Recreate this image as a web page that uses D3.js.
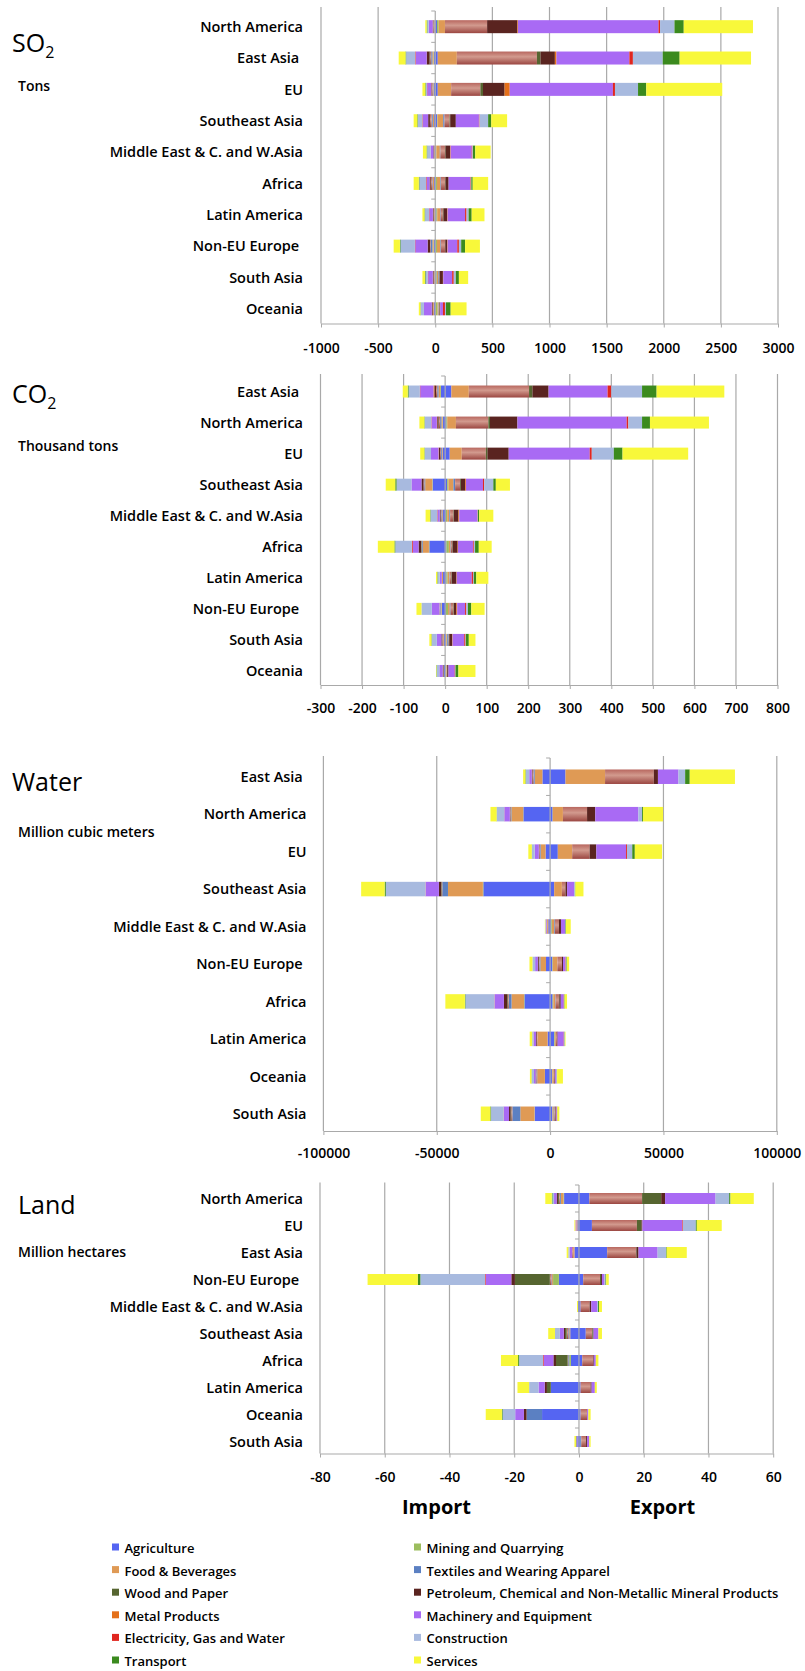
<!DOCTYPE html>
<html>
<head>
<meta charset="utf-8">
<script src="https://cdn.jsdelivr.net/npm/d3@7"></script>
<style>
  html, body { margin: 0; padding: 0; background: #fff; }
  svg { display: block; }
  text { font-family: "Open Sans", "Noto Sans", sans-serif; fill: #000; }
</style>
</head>
<body>
<svg id="chart" width="805" height="1671"></svg>
<script>
// Sector order used for stacking (from zero outwards)
const sectors = [
  "Agriculture", "Mining and Quarrying", "Food & Beverages", "Textiles and Wearing Apparel",
  "Other Manufacturing", "Wood and Paper", "Petroleum, Chemical and Non-Metallic Mineral Products",
  "Metal Products", "Machinery and Equipment", "Electricity, Gas and Water",
  "Construction", "Transport", "Services"
];
const sectorColors = [
  "#5565f2", "#9cbd5e", "#df9a55", "#5b80c2",
  "url(#gradOther)", "#566530", "#5a2420",
  "#e4701a", "#a96af4", "#e0261f",
  "#a8badf", "#3b8a1e", "#f8f83a"
];
// Legend entries, read row by row (two columns)
const legendSectors = [
  "Agriculture", "Mining and Quarrying",
  "Food & Beverages", "Textiles and Wearing Apparel",
  "Wood and Paper", "Petroleum, Chemical and Non-Metallic Mineral Products",
  "Metal Products", "Machinery and Equipment",
  "Electricity, Gas and Water", "Construction",
  "Transport", "Services"
];

// ---------- SO2 (tons) ----------
const so2Regions = ["North America", "East Asia ", "EU", "Southeast Asia", "Middle East & C. and W.Asia",
  "Africa", "Latin America", "Non-EU Europe ", "South Asia", "Oceania"];
const so2Exports = [
  [15, 15, 55, 0, 369, 0, 265, 5, 1230, 14, 126, 81, 606],
  [22, 0, 167, 0, 701, 31, 126, 14, 638, 31, 261, 148, 625],
  [22, 0, 117, 0, 256, 23, 189, 45, 903, 18, 202, 72, 665],
  [15, 5, 50, 11, 45, 5, 49, 0, 202, 5, 76, 27, 139],
  [5, 5, 30, 5, 40, 5, 40, 5, 184, 6, 5, 20, 135],
  [5, 10, 30, 5, 35, 5, 27, 0, 189, 5, 5, 12, 135],
  [10, 7, 25, 5, 20, 5, 31, 5, 153, 13, 18, 27, 112],
  [5, 10, 30, 5, 35, 3, 15, 5, 85, 14, 20, 34, 130],
  [10, 5, 10, 6, 5, 3, 28, 3, 78, 14, 18, 27, 81],
  [5, 15, 8, 3, 5, 2, 5, 0, 24, 18, 9, 41, 139]
];
const so2Imports = [
  [-3, 0, -5, -5, -5, 0, -5, 0, -35, 0, -12, -5, -12],
  [-10, -5, -10, -10, -10, -5, -25, 0, -95, -5, -80, -5, -60],
  [-10, -3, -5, -5, -5, 0, -5, -2, -35, -2, -10, -5, -25],
  [-10, 0, -12, -10, -15, 0, -15, 0, -45, -5, -40, -5, -32],
  [-5, 0, -5, 0, 0, 0, -6, 0, -25, 0, -30, -5, -32],
  [-10, 0, -10, -5, -15, 0, -10, 0, -25, -5, -59, -5, -45],
  [-5, 0, -5, 0, -5, 0, -6, 0, -30, -3, -35, -5, -18],
  [-10, -5, -10, -15, -5, 0, -22, 0, -108, -3, -126, -5, -55],
  [-5, 0, -5, 0, -5, 0, -7, 0, -40, -3, -20, -5, -22],
  [-10, 0, -8, 0, -5, 0, -8, 0, -68, 0, -28, -3, -14]
];
const so2Ticks = [-1000, -500, 0, 500, 1000, 1500, 2000, 2500, 3000];

// ---------- CO2 (thousand tons) ----------
const co2Regions = ["East Asia ", "North America", "EU", "Southeast Asia", "Middle East & C. and W.Asia",
  "Africa", "Latin America", "Non-EU Europe ", "South Asia", "Oceania"];
const co2Exports = [
  [15, 0, 42, 0, 145, 8, 39, 0, 142, 9, 74, 35, 163],
  [3, 2, 21, 0, 78, 4, 66, 0, 263, 4, 33, 19, 142],
  [11, 0, 29, 0, 58, 4, 51, 0, 195, 5, 53, 21, 158],
  [5, 3, 12, 4, 12, 2, 10, 2, 41, 3, 22, 6, 34],
  [2, 3, 5, 2, 8, 1, 11, 2, 43, 1, 1, 3, 34],
  [3, 6, 4, 1, 3, 1, 12, 1, 36, 2, 3, 9, 31],
  [3, 3, 4, 1, 4, 1, 11, 1, 36, 3, 2, 6, 29],
  [2, 5, 4, 2, 7, 1, 6, 2, 19, 3, 4, 8, 32],
  [2, 1, 2, 3, 1, 1, 7, 1, 28, 3, 1, 7, 16],
  [1, 2, 1, 0, 1, 0, 3, 0, 15, 1, 1, 7, 41]
];
const co2Imports = [
  [-10, -2, -4, -3, -3, 0, -4, -2, -32, -1, -27, -2, -12],
  [-5, -1, -3, -3, -3, -1, -3, -1, -12, -1, -16, -1, -12],
  [-6, 0, -2, -2, -2, 0, -3, -1, -18, 0, -15, -1, -10],
  [-30, -1, -17, -2, -2, 0, -5, 0, -24, 0, -36, -3, -23],
  [-5, 0, -2, -2, -2, 0, -2, 0, -5, -1, -16, -1, -11],
  [-38, -1, -15, -2, -1, -1, -6, 0, -14, -2, -40, -2, -40],
  [-5, 0, -3, 0, 0, 0, 0, 0, -5, 0, -5, -1, -3],
  [-8, -1, -2, -2, -1, 0, 0, 0, -18, 0, -25, 0, -12],
  [-3, 0, -2, -1, -1, 0, -2, 0, -11, 0, -12, -1, -5],
  [-3, 0, -1, 0, 0, 0, -2, 0, -8, 0, -6, -1, -1]
];
const co2Ticks = [-300, -200, -100, 0, 100, 200, 300, 400, 500, 600, 700, 800];

// ---------- Water (million cubic meters) ----------
const waterRegions = ["East Asia ", "North America", "EU", "Southeast Asia", "Middle East & C. and W.Asia",
  "Non-EU Europe ", "Africa", "Latin America", "Oceania", "South Asia"];
const waterExports = [
  [6800, 0, 17440, 0, 21510, 0, 1820, 0, 9060, 0, 2940, 2030, 19940],
  [1100, 100, 4460, 0, 10650, 0, 3620, 0, 19030, 0, 1610, 400, 8860],
  [3400, 0, 6340, 0, 7700, 0, 2950, 0, 13130, 400, 2320, 1130, 12010],
  [1800, 0, 3400, 0, 1600, 0, 700, 0, 3150, 0, 300, 200, 3570],
  [500, 300, 1000, 300, 1800, 0, 900, 0, 1800, 0, 200, 200, 2100],
  [1000, 200, 2000, 0, 2000, 0, 500, 0, 1000, 200, 300, 200, 1000],
  [1100, 300, 800, 200, 1500, 200, 600, 0, 1300, 100, 100, 200, 1070],
  [1800, 300, 400, 0, 500, 0, 300, 0, 2700, 100, 300, 100, 300],
  [800, 200, 600, 0, 400, 0, 200, 0, 600, 0, 200, 100, 2560],
  [1000, 100, 500, 300, 500, 0, 300, 0, 300, 100, 0, 100, 880]
];
const waterImports = [
  [-3400, 0, -3400, -500, -500, 0, -300, 0, -1100, 0, -1500, -200, -1000],
  [-11780, -100, -5200, -300, -200, 0, -200, 0, -2400, -50, -3270, -100, -2700],
  [-2000, 0, -2200, -300, -300, 0, -200, 0, -1800, 0, -1200, -100, -1500],
  [-29450, -200, -15400, -2500, -300, -200, -1000, 0, -5800, -100, -17530, -500, -10370],
  [-800, 0, -500, 0, -200, 0, 0, 0, -300, 0, -300, 0, -200],
  [-1800, 0, -2500, -400, -300, 0, -400, 0, -1200, 0, -1200, 0, -1300],
  [-11320, -200, -5500, -1200, -400, -300, -1460, 0, -4080, -100, -12810, -200, -8630],
  [-1100, 0, -4500, 0, -300, 0, -300, 0, -1000, -100, -600, 0, -1100],
  [-2300, 0, -3400, -300, -200, 0, -200, 0, -700, 0, -1000, -100, -700],
  [-6800, -100, -6240, -3500, -500, -300, -680, 0, -2260, -100, -5570, -300, -4230]
];
const waterTicks = [-100000, -50000, 0, 50000, 100000];

// ---------- Land (million hectares) ----------
const landRegions = ["North America", "EU", "East Asia", "Non-EU Europe ", "Middle East & C. and W.Asia",
  "Southeast Asia", "Africa", "Latin America", "Oceania", "South Asia"];
const landExports = [
  [3.2, 0, 0, 0, 16.3, 5.9, 1.2, 0, 15.6, 0, 4.2, 0.4, 7.2],
  [4.0, 0, 0, 0, 13.9, 1.4, 0.3, 0, 12.3, 0.2, 4.0, 0.3, 7.7],
  [8.7, 0, 0, 0, 8.9, 0.2, 0.6, 0, 5.9, 0, 2.6, 0.2, 6.2],
  [1.3, 0, 0, 0, 5.2, 0.3, 0.3, 0, 0.8, 0, 0.3, 0.2, 0.8],
  [0.5, 0, 0, 0, 2.8, 0, 0.5, 0, 1.8, 0, 0.3, 0.3, 0.9],
  [2.1, 0, 0, 0, 2.0, 0.2, 0.2, 0, 1.5, 0, 0, 0, 1.1],
  [1.0, 0, 0, 0, 3.4, 0, 0.2, 0, 0.6, 0, 0, 0, 0.8],
  [0.5, 0, 0, 0, 3.1, 0, 0.3, 0, 1.0, 0, 0, 0, 0.6],
  [0.5, 0, 0, 0, 2.0, 0, 0, 0, 0.4, 0, 0, 0, 0.7],
  [0.4, 0, 0, 0.3, 1.5, 0, 0.3, 0, 0.7, 0, 0, 0, 0.4]
];
const landImports = [
  [-4.6, -0.2, -0.8, -0.3, -0.3, -0.3, -0.4, 0, -0.8, 0, -0.5, -0.2, -2.0],
  [-0.5, 0, -0.3, 0, 0, 0, 0, 0, -0.3, 0, 0, 0, -0.3],
  [-1.4, 0, -0.4, 0, -0.3, 0, 0, 0, -0.8, 0, -0.4, 0, -0.5],
  [-6.2, -1.8, -0.3, -0.2, -0.5, -10.8, -1.1, 0, -7.9, -0.2, -20.0, -0.8, -15.5],
  [-0.3, 0, 0, 0, 0, 0, 0, 0, 0, 0, 0, 0, -0.3],
  [-2.7, 0, -0.3, -0.3, -0.5, -0.5, -0.4, 0, -1.2, 0, -1.5, 0, -2.1],
  [-2.5, -0.5, 0, -0.3, -0.2, -3.6, -0.8, 0, -3.0, -0.2, -7.4, -0.3, -5.3],
  [-8.7, 0, 0, 0, 0, -1.2, -0.7, 0, -1.9, 0, -2.9, 0, -3.6],
  [-11.4, 0, 0, -4.8, 0, 0, -0.8, 0, -2.7, 0, -3.9, -0.2, -5.0],
  [-0.5, 0, 0, 0, 0, 0, 0, 0, -0.3, 0, 0, -0.1, -0.5]
];
const landTicks = [-80, -60, -40, -20, 0, 20, 40, 60];

// Direction captions below the land axis
const directionLabels = ["Import", "Export"];

// ---------- drawing ----------
const svg = d3.select("#chart");
const defs = svg.append("defs");
const grad = defs.append("linearGradient").attr("id", "gradOther")
  .attr("x1", 0).attr("y1", 0).attr("x2", 0).attr("y2", 1);
grad.selectAll("stop")
  .data([[0, "#b8675f"], [0.4, "#d29a8e"], [1, "#9b4641"]])
  .join("stop").attr("offset", d => d[0]).attr("stop-color", d => d[1]);

const panels = [
  { title: "SO", sub: "2", unit: "Tons", regions: so2Regions, exp: so2Exports, imp: so2Imports, ticks: so2Ticks,
    xRange: [321, 778], yRange: [11, 324.5], axisY: 323.5, gridTop: 7, barH: 13, labelX: 303,
    tickY: 353, titleX: 12, titleY: 51.5, unitY: 91 },
  { title: "CO", sub: "2", unit: "Thousand tons", regions: co2Regions, exp: co2Exports, imp: co2Imports, ticks: co2Ticks,
    xRange: [320.5, 777.5], yRange: [376, 686.5], axisY: 685, gridTop: 374, barH: 12, labelX: 303,
    tickY: 713, titleX: 12, titleY: 403, unitY: 451 },
  { title: "Water", sub: null, unit: "Million cubic meters", regions: waterRegions, exp: waterExports, imp: waterImports, ticks: waterTicks,
    xRange: [323.4, 776.8], yRange: [758, 1132.5], axisY: 1131, gridTop: 756, barH: 14.5, labelX: 306.5,
    tickY: 1158, titleX: 12, titleY: 790.5, unitY: 837 },
  { title: "Land", sub: null, unit: "Million hectares", regions: landRegions, exp: landExports, imp: landImports, ticks: landTicks,
    xRange: [320, 773.2], yRange: [1185, 1455], axisY: 1453.5, gridTop: 1182.5, barH: 11, labelX: 303,
    tickY: 1481.5, titleX: 18, titleY: 1214, unitY: 1257 }
];

const gridColor = "#a9a9a9";

function drawPanel(p) {
  const g = svg.append("g");
  const x = d3.scaleLinear().domain(d3.extent(p.ticks)).range(p.xRange);
  const y = d3.scaleBand().domain(d3.range(p.regions.length)).range(p.yRange);

  // vertical gridlines
  g.append("g").selectAll("line").data(p.ticks.filter(t => t !== 0)).join("line")
    .attr("x1", d => x(d)).attr("x2", d => x(d))
    .attr("y1", p.gridTop).attr("y2", p.axisY)
    .attr("stroke", gridColor).attr("stroke-width", 1.2);

  // stacked bars: imports diverge to the left, exports to the right
  const rows = p.regions.map((r, i) => {
    const o = { idx: i };
    sectors.forEach((s, k) => { o["e" + k] = p.exp[i][k]; o["i" + k] = p.imp[i][k]; });
    return o;
  });
  const keys = [];
  sectors.forEach((s, k) => { keys.push("e" + k, "i" + k); });
  const stacked = d3.stack().keys(keys).offset(d3.stackOffsetDiverging)(rows);

  const barG = g.append("g");
  stacked.forEach(layer => {
    const k = +layer.key.slice(1);
    barG.append("g").attr("fill", sectorColors[k])
      .selectAll("rect").data(layer.filter(d => d[1] !== d[0])).join("rect")
      .attr("x", d => x(Math.min(d[0], d[1])))
      .attr("width", d => Math.abs(x(d[1]) - x(d[0])))
      .attr("y", d => y(d.data.idx) + (y.bandwidth() - p.barH) / 2)
      .attr("height", p.barH);
  });

  // category axis at zero with small ticks between regions
  const x0 = x(0);
  g.append("line").attr("x1", x0).attr("x2", x0).attr("y1", p.yRange[0]).attr("y2", p.axisY)
    .attr("stroke", gridColor).attr("stroke-width", 1.2);
  const bounds = d3.range(p.regions.length).map(i => y(i));
  g.append("g").selectAll("line").data(bounds).join("line")
    .attr("x1", x0 - 4).attr("x2", x0).attr("y1", d => d).attr("y2", d => d)
    .attr("stroke", gridColor).attr("stroke-width", 1);

  // value axis
  const axis = d3.axisBottom(x).tickValues(p.ticks).tickSize(4).tickSizeOuter(0)
    .tickFormat(d => String(d));
  const ax = g.append("g").attr("transform", `translate(0,${p.axisY})`).call(axis);
  ax.select(".domain").attr("stroke", gridColor).attr("stroke-width", 1.2);
  ax.selectAll(".tick line").attr("stroke", gridColor);
  ax.selectAll(".tick text").attr("y", p.tickY - p.axisY).attr("dy", 0)
    .style("font-size", "14px").style("font-weight", 600).attr("fill", "#000");

  // region labels
  g.append("g").selectAll("text").data(p.regions).join("text")
    .attr("x", p.labelX).attr("y", (d, i) => y(i) + y.bandwidth() / 2)
    .attr("dy", "0.36em").attr("text-anchor", "end")
    .style("white-space", "pre").style("font-size", "14.5px").style("font-weight", 600)
    .text(d => d);

  // panel title and unit
  const t = g.append("text").attr("x", p.titleX).attr("y", p.titleY).style("font-size", "25px");
  t.append("tspan").text(p.title);
  if (p.sub) t.append("tspan").attr("dy", 6).style("font-size", "16px").text(p.sub);
  g.append("text").attr("x", 18).attr("y", p.unitY).style("font-size", "14px").style("font-weight", 600)
    .text(p.unit);
}

panels.forEach(drawPanel);

// direction captions under the last panel
svg.append("g").selectAll("text").data(directionLabels).join("text")
  .attr("x", (d, i) => i === 0 ? 436.5 : 662.5)
  .attr("y", 1514).attr("text-anchor", "middle")
  .style("font-size", "20px").style("font-weight", 700)
  .text(d => d);

// legend
const legend = svg.append("g");
const legItems = legend.selectAll("g").data(legendSectors).join("g")
  .attr("transform", (d, i) => `translate(${i % 2 === 0 ? 112 : 414},${1548.5 + Math.floor(i / 2) * 22.6})`);
legItems.append("rect").attr("x", 0).attr("y", -5).attr("width", 7).attr("height", 7)
  .attr("fill", d => sectorColors[sectors.indexOf(d)]);
legItems.append("text").attr("x", 12.5).attr("y", 0).attr("dy", "0.35em")
  .style("font-size", "13px").style("font-weight", 600).text(d => d);
</script>
</body>
</html>
